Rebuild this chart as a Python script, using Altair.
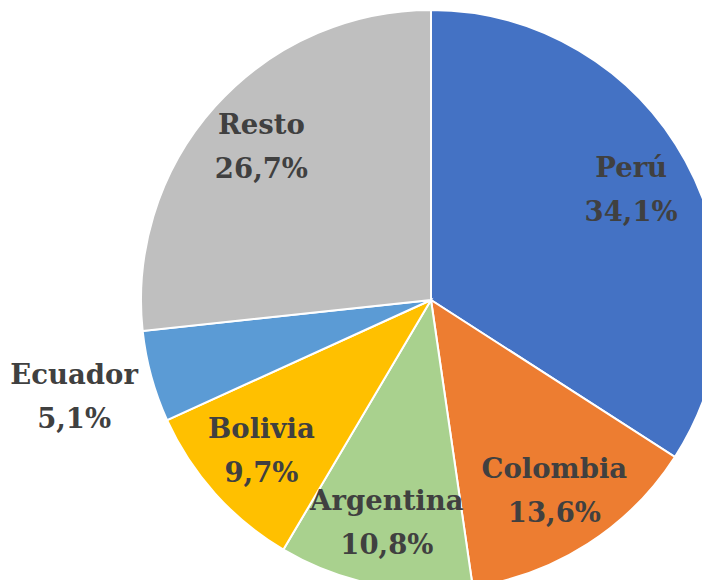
import altair as alt
import pandas as pd

paises = ["Perú", "Colombia", "Argentina", "Bolivia", "Ecuador", "Resto"]
valores = [34.1, 13.6, 10.8, 9.7, 5.1, 26.7]
etiquetas = ["34,1%", "13,6%", "10,8%", "9,7%", "5,1%", "26,7%"]
colores = ["#4472C4", "#ED7D31", "#A9D18E", "#FFC000", "#5B9BD5", "#BFBFBF"]

df = pd.DataFrame({"pais": paises, "valor": valores, "pct": etiquetas,
                   "orden": list(range(len(paises)))})
df["label"] = df["pais"] + "\n" + df["pct"]

CX, CY = 423, 292

base = alt.Chart(df).encode(
    theta=alt.Theta("valor:Q", stack=True),
    order=alt.Order("orden:Q"),
    x=alt.value(CX),
    y=alt.value(CY),
)

arcs = base.mark_arc(radius=290, stroke="white", strokeWidth=2).encode(
    color=alt.Color("pais:N", scale=alt.Scale(domain=paises, range=colores), legend=None)
)

txt_style = dict(font="DejaVu Serif", fontWeight="bold", fontSize=27.5,
                 lineBreak="\n", lineHeight=44, color="#404040",
                 align="center", baseline="middle", dy=-22)

inner = base.mark_text(radius=228, **txt_style).encode(
    text="label:N",
    opacity=alt.condition(alt.datum.pais == "Ecuador", alt.value(0), alt.value(1)),
)

outer = base.mark_text(radius=370, **txt_style).encode(
    text="label:N",
    opacity=alt.condition(alt.datum.pais == "Ecuador", alt.value(1), alt.value(0)),
)

chart = alt.layer(arcs, inner, outer).properties(
    width=694, height=572, autosize="none", padding=0
).configure_view(stroke=None)

chart.save("out.html", embed_options={"renderer": "svg", "actions": False})
